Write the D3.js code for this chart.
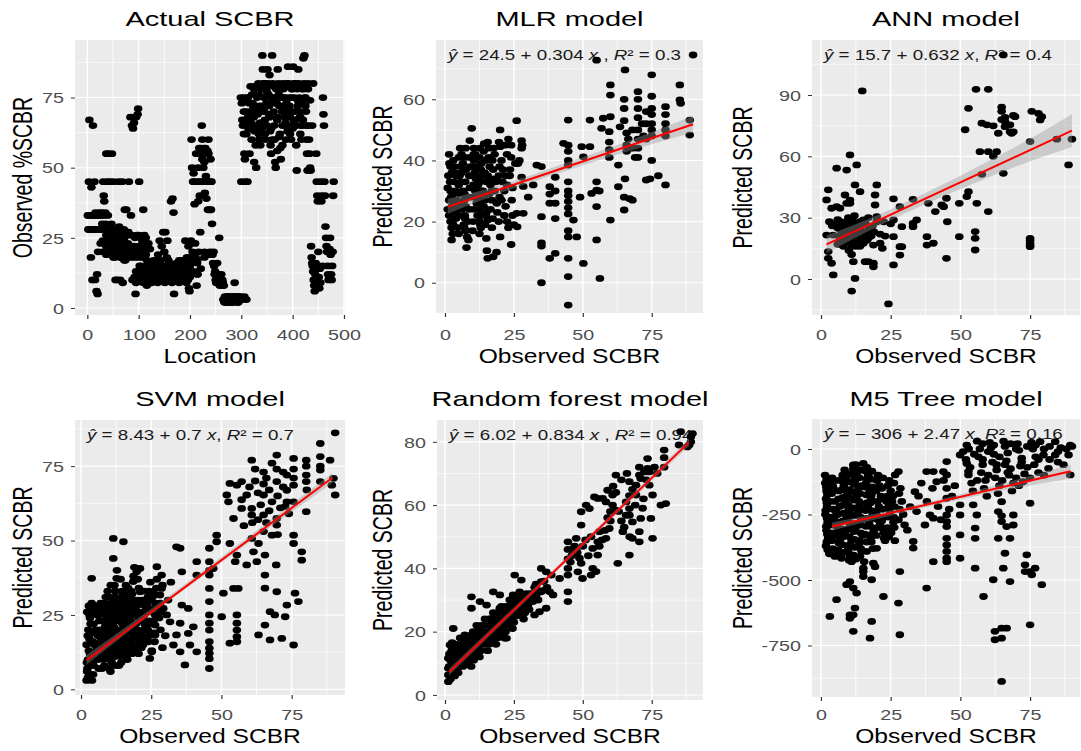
<!DOCTYPE html>
<html><head><meta charset="utf-8">
<script src="https://cdn.jsdelivr.net/npm/d3@7"></script>
<style>body{margin:0;background:#fff;} svg{display:block;} text{font-family:"Liberation Sans",Arial,Helvetica,sans-serif;}</style>
</head><body><svg id="c" width="1081" height="751"></svg>
<script>
// ---------- DATA ----------
// Observed %SCBR for locations 1..480
const actualSCBR = [
33,28,45,67,28,33,18,43,28,10,
65,33,28,45,10,34,28,6,12,5,
20,28,33,34,28,23,28,34,30,28,
45,40,38,28,34,30,55,28,45,33,
55,28,25,45,22,20,30,55,26,19,
45,25,18,20,10,28,23,10,21,19,
45,29,26,10,18,20,24,45,9,21,
28,18,35,17,22,35,26,20,18,27,
45,26,20,68,33,19,65,10,64,22,
66,11,18,5,68,10,26,69,71,20,
45,11,10,15,22,12,18,10,35,12,
26,14,10,25,21,8,11,15,23,12,
10,21,16,13,9,15,12,11,17,10,
13,14,11,16,10,12,15,19,11,13,
24,12,17,10,22,14,11,27,13,20,
12,27,15,10,18,24,11,14,16,12,
13,11,38,15,10,39,12,34,5,14,
11,13,12,16,10,14,12,11,15,13,
10,12,14,11,17,13,12,10,16,11,
24,14,12,18,17,10,22,7,6,13,
18,24,60,50,20,45,48,19,37,23,
18,45,8,17,12,38,20,45,40,27,
57,55,65,53,45,50,57,20,41,55,
47,39,45,56,35,60,45,35,20,53,
35,45,30,19,16,20,15,12,13,10,
9,10,16,11,12,9,25,8,10,9,
12,8,10,9,3,8,2,4,3,2,
3,4,2,3,4,3,2,4,3,2,
4,3,2,3,4,3,9,3,2,4,
3,4,3,2,4,3,4,3,75,45,
73,67,65,75,62,55,53,45,70,66,
75,45,68,64,73,55,70,79,66,60,
76,64,72,68,52,79,70,58,50,65,
75,69,80,62,72,66,58,78,70,64,
90,85,80,75,70,67,60,78,73,65,
85,80,76,72,68,63,58,55,74,90,
80,75,70,65,60,52,50,78,73,68,
85,80,76,72,62,57,53,75,70,65,
80,78,75,70,68,65,60,73,80,63,
86,80,75,72,68,65,60,78,70,64,
86,80,75,70,67,65,58,49,78,72,
85,80,75,70,68,65,60,78,73,67,
89,80,90,75,72,65,60,55,49,78,
65,60,55,50,49,22,18,16,15,13,
10,8,6,12,16,55,45,40,38,20,
11,7,14,9,45,38,40,15,75,69,
65,45,40,29,25,22,20,15,12,10,
11,21,25,19,12,10,15,20,40,45
];
// further [location, %SCBR] samples in the crowded parts
const actualExtra = [
[3,33],[9,33],[15,33],[21,33],[27,33],[33,33],[4,28],[10,28],[16,28],[24,28],[30,28],[36,28],[42,28],[48,28],
[30,24],[30,20],[37,26],[37,22],[37,19],[44,27],[44,24],[44,20],[51,25],[51,22],[51,18],[58,27],[58,24],[58,20],[65,26],[65,22],[65,18],
[72,25],[72,21],[72,17],[79,27],[79,23],[79,19],[86,26],[86,22],[86,18],[93,25],[93,21],[100,26],[100,22],[100,18],[107,24],[107,20],[114,23],[114,19],
[95,9],[95,13],[102,11],[102,15],[109,9],[109,13],[116,11],[116,15],[116,17],[123,9],[123,13],[130,11],[130,15],[137,9],[137,13],[137,17],
[144,11],[144,15],[151,9],[151,13],[158,11],[158,15],[158,17],[165,9],[165,13],[172,11],[172,15],[179,9],[179,13],[179,17],
[186,11],[186,15],[193,9],[193,13],[200,11],[200,15],[207,13],[207,17],[214,12],[214,16],[221,14],[228,18],[235,19],
[266,3],[270,2],[274,4],[278,3],[282,2],[286,4],[290,3],[294,2],[298,4],[302,3],[306,4],[310,3],
[305,70],[310,62],[313,75],[318,68],[322,73],[326,63],[330,70],[334,76],[338,66],[342,72],[346,62],[350,77],[354,69],[358,64],
[362,79],[366,73],[370,67],[374,61],[378,78],[382,72],[386,66],[390,79],[394,70],[398,75],[402,67],[406,80],[410,74],[414,68],
[418,65],[422,78],[426,70],[430,80],[434,74],[438,65],[440,80],[325,78],[345,80],[365,75],[385,75],[405,65],[425,75],[360,60],
[370,56],[380,58],[395,62],[415,62],[335,60],[320,70],[355,83],[400,78],
[207,45],[212,55],[216,50],[220,45],[224,60],[228,52],[232,45],[236,55],[240,45],[218,57],[230,57]
];

// [observed, predicted]
const mlrPoints = [
[1.5,42],[2,38],[2.5,36],[1.8,33],[2,30],[2.2,28],[2.5,25],[1.5,22],[2,20],[2.4,18],[2.8,16],[2.4,14],[3,40],[3.5,38],[4,35],[3.8,30],[4.2,27],[4.5,24],[4,21],[4.6,18],[5,16],
[5.5,44],[6,42],[6.5,39],[6,36],[5.8,33],[6.5,30],[7,27],[6.2,24],[7.2,22],[6.8,19],[7.5,17],[8,15],[7.8,11.5],[8.5,14],[8.2,20],[8.8,24],[8.5,28],[9,31],[8.8,35],[9.2,38],[9,41],[9,46.5],
[9.7,50.5],[10.5,44],[11,42],[10.5,40],[11.5,38],[10.8,36],[11.2,34],[12,32],[11,30],[12.2,28],[11.5,26],[12.5,24],[11.8,22],[12.6,20],[13,18],[13.5,35],[13.2,39],[14,43],[14.2,45.5],[13.8,30],[14.5,27],[14,25],[14.8,22],
[15.5,46],[16,44],[15.8,41],[16.2,38],[15.5,35],[16.5,32],[16,29],[17,27],[16.5,24],[15.5,20.5],[15,14.5],[15.2,10.5],[15.5,8],[17.5,8.5],[18.7,10],[18,42],[17.5,37],[18.5,33],[18,30],[18.8,26],[19,23],
[20,50],[20,44.5],[20.5,40],[21,37],[20.8,33],[21.5,30],[20.5,27],[22,25],[21.5,22],[20,15],[22.5,20],[23,18],[23.5,35],[22.5,42],[23,47],[24,12.5],[24.2,27],[24,41],[23.6,37],[24.5,22],[25,19],
[26,53],[27.8,46.5],[28,45],[27.8,44],[27.8,34.5],[28.4,31.5],[28.4,22.7],[26,22.7],[26.2,18.3],[30.2,28],[32,32],[33.3,38.5],[35,38],[35,21.6],[35,13],[35,12],[35,0],
[38,31.4],[38,29],[38,26],[38,8],[40,34.5],[40,30],[40,26],[40,21],[40,9.6],[43,45.6],[44.7,53.2],[44.7,45],[44.7,43],[44.7,40],[44.7,38.5],[44.7,33],[44.7,30],[44.7,28.5],[44.7,26.6],[44.7,24.5],[44.7,22.5],[44.7,17],[44.7,15],[44.7,8],[44.7,2],[44.7,-7.3],
[46.6,20.5],[47.8,15],[49,28],[49.6,44.5],[50.2,41.2],[50.2,6.3],[52.6,44.5],[52.6,53.2],[53.2,29.2],[55,72.8],[55,33],[55,30.3],[55,24.9],[55,14],[56.2,1.4],[56,30],[56.8,50.5],[57.4,53.8],
[59.6,49.4],[59.6,46],[59.6,43.5],[59.6,41],[60,64.7],[60,61.4],[60,54.3],[60,20.5],[62.9,38.5],[62.9,31.4],[63.5,51],
[65.3,69.6],[65,60],[65,57],[65,53],[65.9,49],[65.9,45],[65.9,43],[65.3,34],[65,28],[65,23.8],[66.5,47],[66.5,44],[67,27.5],[68,27],[68,50],[68,44],[69,41],
[70,62.5],[70,60],[70,57],[70,54],[70,50],[70,47],[70,44],[70,41],[71.5,52],[72,48],[73,56],[73,52],[73,47],[73,33.6],[74.4,34],[75,68],[75,61],[75,57],[75,55],[75,52],[75,50],[75,48],[75,40],[77.4,35],
[80,57.6],[80,55],[80,52],[80,50],[80,48],[80,32],[85.2,64.7],[85.2,59.8],[85.5,58.7],[88.8,53.2],[88.8,48.3],[90,74.5]
];
const mlrDense = [
[1,24],[1.5,27],[1,31],[1.2,35],[1.6,39],[3,19],[3.2,23],[3.5,26],[3,29],[3.3,33],[3.6,36],[5,22],[5.2,26],[5.5,29],[5,32],[5.3,35],[5.6,38],[5,41],
[7,18],[7.3,21],[7.5,25],[7.1,29],[7.4,33],[7.7,37],[7.2,41],[7.5,44],[10,17],[10.2,20],[10.5,24],[10,28],[10.3,32],[10.6,35],[10.1,38],[10.4,42],
[12.5,16],[12.8,19],[13,22],[12.6,26],[13.2,30],[12.8,33],[13,37],[12.5,41],[12.7,44],[14.5,19],[15,23],[14.6,29],[15,33],[14.4,36],[14.8,40],
[17,18],[17.3,21],[17,30],[17.5,34],[17.2,40],[17.6,44],[19.5,20],[19.8,28],[19.5,35],[19.8,38],[19.6,46],[22,35],[22.5,32],[21.8,45],[24.5,31],[24,45],[25.5,39],[26.5,39],[27,40]
];

const annPoints = [
[14.8,92],[65.4,109.6],[55.6,92.8],[60,92.8],[52.9,83.5],[64.8,84],[64.8,82],[64.8,78],[66,79],[66,77],[66,74.5],[67.8,75.4],[69,72],[69,80],[69.6,79.4],[67.8,72],[68.4,71.3],[63.6,71.3],
[75.6,82],[78,81],[79.2,79.4],[78.6,77.8],[75,67.2],[84.6,68.4],[90,68.4],[88.8,55.8],
[57.7,76.2],[59.5,75.4],[61.8,74.9],[51.7,73],[57,62.3],[60,62.3],[63,62.3],[61.8,60],[57.7,51.2],[65.4,51.7],
[52.9,42.7],[52.3,40.3],[49.6,37],[55.9,37],[60,33],[49.6,20.7],[55.3,23.2],[55.3,19.9],[55.3,14.2],
[75,19.9],[75,18.9],[75,17.6],[75,16.5],[75,15.8],
[45,39.5],[44,35.4],[43.3,36.2],[45.3,28],[45,10.1],[41,33],[38.5,37],[38,20.7],[38,16.6],[40.3,17.5],
[33,39],[33,25.6],[33,27.2],[34.3,28.9],[28.3,35.4],[26,39.2],[26,28.9],[28.3,15.8],[28.3,11.7],[29,25.6],[29,15.8],[26,6.9],[26,20.7],[24.2,-12.2],
[20,46],[19.4,41.1],[19.4,36.2],[20,30.5],[20,28],[21.2,22],[21.2,17.5],[18.8,16.6],[18.8,7.7],[18.8,6],[17,8.5],[15.8,8.5],
[14,28],[15.2,28.9],[14,24],[14,20],[14,16],[15.2,17.5],[12.8,55.8],[10.4,60.7],[12.2,46],[14,42.7],[11.6,8.5],[12.2,0.3],[11,-5.9],
[10.4,38.6],[10.4,37],[8.6,41.1],[9.2,37],[9.2,53.3],[5.6,54.2],[5.6,35.4],[6.8,34.6],[3.8,34.6],[2.6,43.6],[2,38.7],[2,21.5],[4.4,21.5],[2.6,13.4],[2.6,10.1],[3.8,7.7],[4.4,2],
[5,27],[6,25],[7,28],[7.5,22],[8,26],[8.5,19],[9,24],[9.5,28],[10,21],[10.5,26],[11,18],[11,23],[11.5,28],[12,20],[12,25],[12.5,16],[13,22],[13,27],[16,22],[16.5,19],[17,24],[18,21],[18.5,26],[19,23],[22,15],[23,21],[25,27],[6,17],[8,16],[10,14],[11,12],[3,28],[4,26],[6.5,21],[9.8,30],[12,31],[17,30],[22.5,28],
[6,29],[7,24],[8,21],[9,18],[10,25],[11,29],[12,22],[13,19],[14,26],[15,23],[16,27],[17,20],[9,27],[11,16],[7,19]
];

const svmPoints = [
[2,3],[2.5,4],[3,5],[2.2,6],[3,8],[2.5,10],[3.2,12],[2.8,13],[2,15],[3,17],[2.6,20],[3.4,22],[3,25],[3.5,27],[3.8,29],[3.8,37.3],
[4.5,8],[5,11],[5.5,13],[4.8,15],[6,18],[5.2,20],[6.5,23],[5.8,25],[6.2,28],[7,29],
[7.5,7],[8,10],[8.5,12],[7.8,14],[9,16],[8.2,18],[9.5,20],[8.8,22],[9.2,24],[8,26],[9.8,28],[9.5,33],
[10.5,6],[11,9],[10.8,12],[11.5,14],[12,16],[10.5,18],[12.5,20],[11.2,22],[12,24],[10.8,26],[12.8,28],[11.5,30],[12.2,33],[12.7,37.3],[11.5,44],[15.1,49.6],[11.5,50.7],
[13.5,8],[14,11],[13.8,13],[14.5,15],[15,17],[13.2,19],[15.5,21],[14.2,23],[15.8,25],[13.6,27],[14.8,30],[15.2,32],[16,35],
[16.5,10],[17,12],[18,14],[16.8,16],[19,18],[17.5,20],[18.5,22],[16.2,24],[19.5,26],[17.2,28],[18.8,30],[17.8,33],[18.6,36.2],[19.8,39.5],[19,41],
[20.5,12],[21.5,14],[22,17],[20.8,19],[23,21],[21.2,23],[22.5,25],[23.5,27],[21,29],[22.2,29.5],[23.8,31],[21,32.8],[21,40.6],
[24.5,10.4],[25.2,13],[24,16],[26,19],[25,22],[26.4,25],[27,28],[25.5,31],[26.8,34],[27,37],[27,41.2],
[28.7,38.4],[28.7,33.9],[29.3,27.2],[28.1,31.7],[29,14],[30,18],[31.7,22.7],[30.5,25],[31,30],[32,36],
[26.4,27.2],[26.4,21.6],[26.4,18.3],[25.2,12.6],
[35.3,47.4],[34,47.9],[35.9,39.5],[35.9,28.3],[35.3,22.2],[35.3,12.6],[34,18.3],[32.9,14.9],
[41.2,42.9],[41.2,38.4],[40,21],[41.2,12.6],[38.2,27.2],[38.2,18.8],[37,8.2],[38.8,14.9],
[48.3,51.8],[48.3,49.6],[47.1,40.6],[45.7,47.4],[45.7,42.9],[45.7,40],[45.7,38.4],[45.7,33.9],[45.7,29.5],[45.7,25],[45.7,22.2],[45.7,19.9],[45.7,16],[45.7,13.8],[45.7,12.1],[45.7,10.3],[45.7,7],
[51.9,65.3],[52.5,63],[53,49],[50.1,24.4],[50.7,32.3],[54.9,42.9],[55.5,45.1],[54.3,57.4],[53,69.2],[55.5,68.6],
[55.5,25],[55.5,22.2],[55.5,19.9],[55.5,17.7],[55.5,16],[56,33.9],[54.3,33.9],[53,15.5],
[57.2,69.8],[57.2,63.7],[57.2,60.8],[59,65.3],[60.8,77],[60.8,60.8],[60.8,58.6],[59,41.8],[61.4,46.2],[60.8,50.7],
[63.2,49],[62.6,42.9],[63.2,18.3],
[65,73],[65,69],[65,65.3],[65,58.6],[65,53],[65.5,45.1],[65.5,38.4],[65.5,34],[65.5,21.6],
[69.7,78.7],[69.7,74],[69.7,69.8],[69.7,32.8],[69,25],[67.3,26.1],[67.3,16.6],[69.5,41.8],[68,51.8],[69.7,57.4],[69.7,55.2],
[73.3,72],[73.3,66.9],[73.3,63],[72.7,61.4],[71.5,17.1],[72.7,24.4],[73.3,28.3],
[75.7,77.6],[75.7,74],[75.7,71],[75.7,68.6],[75.7,63],[75.7,14.9],[76.2,32.3],[77.4,29.5],[75.7,51.8],[75.7,49],
[78.6,46.2],[78.6,43.4],[80.2,77],[80.2,75],[80.2,72],[80.2,69.8],[80.4,67],[80.2,59.7],
[85.2,82.6],[85.2,78.2],[85.2,75],[85.2,73.7],[85.2,69.8],[88.7,77],[89.9,70.9],[90.5,65.3],[89.3,68.6],[90.5,86.2],
[62,70],[63,66],[64,62],[66,71],[67,67],[68,63],[67,60],[70,65],[71,61],[72,68],[61,56],[63,57],[66,56],[70,52],[58,55],[60,68],[62,74],[68,76],[72,73],[74,59]
];
const svmDense = [
[2.3,7],[2.1,9],[3.6,11],[2.4,18],[3.2,24],[2.2,26],[3.9,3],[2.8,28],
[4.3,5],[4.1,9],[4.6,12],[4.2,16],[4.4,19],[4.5,22],[4.7,26],[4.8,28],
[6.3,7],[6.1,10],[6.6,12],[6.2,15],[6.7,20],[6.4,25],[5.6,26.5],[6.9,16],
[8.3,8],[8.6,11],[8.1,13],[8.7,15],[7.9,17],[8.4,19],[8.6,21],[8.1,23],[8.9,25],[8.5,27],[8.3,29],[8.8,31],
[10,7],[10.3,10],[9.8,13],[10.2,15],[10.6,17],[9.9,19],[10.4,21],[10.1,23],[10.7,25],[10.2,27],[10.5,29],[10.1,31],[10.6,35],
[12.3,8],[12.1,11],[11.8,13],[12.4,15],[11.9,17],[12.3,19],[11.7,21],[12.6,23],[12,25],[11.8,27],[12.4,29],[12.1,31],[11.9,35],[12.8,40],
[14.3,9],[14.1,12],[14.6,14],[13.9,16],[14.4,18],[13.8,20],[14.7,22],[14.1,24],[14.5,26],[13.9,28],[14.3,31],[14.6,33],[14.1,37],
[16.1,11],[16.6,13],[15.8,15],[16.3,17],[15.9,19],[16.7,21],[16.2,23],[15.7,25],[16.5,27],[16,29],[16.4,31],[16.8,34],
[18.2,12],[17.8,15],[18.4,17],[17.9,19],[18.3,21],[17.7,23],[18.1,25],[18.5,27],[17.9,29],[18.2,32],[18.7,38],
[20.2,13],[19.8,15],[20.4,17],[20.1,20],[19.7,22],[20.5,24],[20.1,26],[19.9,28],[20.3,30],[20.6,34],[20.2,37],
[22.1,15],[21.8,18],[22.4,20],[22.7,22],[21.9,24],[22.3,26],[22.8,28],[21.7,30],[22.4,33],
[24.2,18],[23.8,20],[24.4,23],[24.1,26],[23.7,28],[24.5,30],[24.2,33],[24.7,36],
[26.2,16],[25.8,23],[26.5,29],[26.1,32],[28.3,20],[27.8,24],[28.5,26],[28.2,29],[29,35]
];

const rfPoints = [
[1.2,4.2],[1.2,6.3],[1.2,8.4],[1.2,11.6],[1.8,15.8],[3,21],[2,5],[2.5,7],[2.8,10],[2.2,12.5],[3,14],[2.6,16.5],
[3.5,6],[4,8],[4.5,10],[3.8,12],[5,14],[4.2,16],[5.5,18],
[6.5,9],[7,11],[7.5,13],[6.8,15],[8,17],[7.2,19],[8.5,12],
[9.5,9],[10,12],[10.5,14],[9.8,16],[11,18],[10.2,20],[11.5,22],[9.6,27.4],[9.6,31],
[12.5,12],[13,14],[13.5,16],[12.8,18],[14,20],[13.2,22],[14.5,24],[12.7,29.5],[15.1,28.4],
[15.5,14],[16,16],[16.5,18],[15.8,20],[17,22],[16.2,24],[17.5,26],[17.5,32.6],
[18.5,16],[19,18],[19.5,20],[18.8,22],[20,24],[19.2,26],[20.5,28],[19.9,31.6],[19.9,27.4],[19.9,22.1],[19.9,18.9],
[21.5,18],[22,20],[22.5,22],[21.8,24],[23,26],[22.2,28],[23.5,30],[22.3,27.4],[22.3,23.2],[22.3,17.9],
[24.5,21],[25,23],[25.5,25],[24.8,27],[26,29],[25.2,31],[25.3,37.9],[27.7,36.3],[27.1,32.6],[27.1,29.5],[27.1,27.4],[24.7,31.6],[24.7,28.4],[24.7,25.3],
[28.5,24],[29,26],[29.5,28],[30.1,28.4],[31.9,29.5],[30,30],[31,32],[32.5,34],[33.1,31.6],[33.1,33.7],[32.5,25.3],[34.3,26.3],[36.7,27.4],
[34.9,40],[34.9,35.8],[34.9,32.6],[36.7,38.9],[38.6,37.9],[41.6,36.8],[38,32.6],[39.2,31.6],
[44.6,48.4],[44.6,46],[44.6,43],[44.6,40],[44.6,37.9],[44.6,32.6],[44.6,29.5],[46.4,45.8],[47.6,49.5],[47.6,46.3],
[48.8,43.2],[49.4,41.6],[49.9,36.8],[48.2,38.9],[49.4,57.9],[51.2,60],[49.4,53.7],[52.4,58.9],
[53.6,46.3],[53.6,40],[54.8,39],[53,37.9],[55.4,48.4],[55.4,44.2],[56,51.6],[58.4,49.5],[59.6,52.6],
[54.2,62.6],[55.4,62.1],[57.2,62.1],[58.4,61],[59,64.7],[60.8,63.2],[60.8,60],[62,69.5],[62,58.4],[62.7,41.6],
[64.5,51.6],[65.7,61],[65.7,56.8],[66.9,67.4],[66.9,63],[66.9,58.9],[66.9,56.8],[66.9,44.2],[68,54.7],[68,49.5],
[69.3,66.3],[69.3,63.2],[70.5,72],[70.5,69.5],[71,68.4],[70.5,51.6],[70.5,48.4],[71,55.8],[71.7,59],[72.3,70.5],
[73.5,74.7],[73.5,71.6],[74.1,70.5],[74.1,66.3],[74.7,55.8],[75.3,63.2],[75.3,49.5],
[79.5,77.4],[79.5,75],[79.5,72],[80.1,60.5],[78.3,60],
[84.9,79],[85.5,83.2],[87.9,78.4],[88.6,79],[89.2,81.6],[89.2,80],[89.8,82.6],
[63,58],[64,55],[65,53],[67,50],[68,65],[69,60],[72,62],[73,68],[76,72],[77,70],[60,55],[61,66],[64,68],[66,70],[62,64]
];
const rfDense = [
[1.5,9],[2,11],[1.6,13],[2.4,14],[3.5,9],[3.2,11],[3.7,13],[4,15],[4.8,7],[5.2,9],[5.5,11],[5.7,13],[5.9,16],[6.2,10],[6.8,12],[7.4,14],[7.8,16],[8.2,18],
[8.4,10],[8.8,13],[9,15],[9.2,17],[9.7,19],[10.4,11],[10.8,13],[11.2,15],[11.5,17],[11.8,19],[12.1,21],[12.4,14],[12.9,16],[13.3,18],[13.8,20],[14.2,22],
[14.6,16],[15.2,18],[15.6,20],[16,22],[16.4,24],[16.9,17],[17.4,19],[17.8,21],[18.2,23],[18.6,25],[19.1,19],[19.6,21],[20,23],[20.4,25],[20.9,27],
[21.2,20],[21.7,22],[22.1,24],[22.6,26],[23,28],[23.6,22],[24,24],[24.4,26],[24.9,28],[25.4,30],[26,25],[26.5,27],[27,29],[27.5,31],[28,26],[28.5,28],
[29,30],[29.6,32],[30.5,27],[31.2,30],[32,32],[33,35],[33.8,30],[35.5,33],[36,36],[37,34],
[45.5,42],[46,44],[47,47],[48,45],[50,47],[51,49],[52,44],[53,50],[56,47],[57,49],[58,52],[59,56],[60,58]
];

const m5Points = [
[1.5,-100],[1.5,-130],[2,-160],[1.8,-190],[2.2,-220],[1.6,-250],[2.4,-280],[2,-310],[2.6,-340],[1.8,-370],[3,-400],[3.5,-120],[3.2,-200],[3.8,-260],
[4.5,-150],[5,-200],[5.5,-240],[4.8,-270],[6,-300],[5.2,-330],[6.5,-360],[5.8,-400],[7,-410],[7.4,-417],[5,-410],
[8.5,-80],[9,-110],[8.2,-140],[9.5,-170],[8.8,-200],[10,-230],[9.2,-260],[10.5,-290],[8.6,-320],[11,-350],[9.8,-380],[10.4,-410],[11,-430],
[12.5,-60],[13,-90],[12.2,-120],[13.5,-150],[12.8,-180],[14,-210],[13.2,-240],[14.5,-270],[12.4,-300],[15,-330],[13.8,-360],[14.6,-390],[12.6,-420],[15.5,-430],[11.6,-61],[15.2,-55],
[16.5,-70],[17,-100],[16.2,-130],[17.5,-160],[18,-190],[16.8,-220],[18.5,-250],[17.2,-280],[19,-310],[17.8,-340],[18.6,-380],[16.4,-391],[20,-379],
[20.5,-100],[21,-140],[21.5,-180],[20.8,-220],[22,-260],[21.2,-290],[22.5,-320],[23,-350],[23.5,-200],
[24.5,-120],[25,-160],[25.5,-200],[24.8,-240],[26,-280],[25.2,-320],[26.5,-350],[26.6,-99],[27.8,-86],
[28.5,-150],[29,-200],[29.5,-250],[30,-290],[31,-310],[32,-220],
[19.4,-449],[18.8,-436],[15.2,-468],[15.2,-487],[15.2,-455],[11.6,-633],[12.2,-607],[10.4,-633],[10.4,-646],[11.6,-696],[10.4,-506],[11.6,-531],[9.2,-518],[12.8,-550],[5.6,-575],[3.2,-639],
[28.3,-468],[27.8,-588],[28.3,-709],[22.4,-563],[18.2,-499],[18.2,-658],[17.6,-722],
[33.1,-353],[33.1,-378],[33.7,-163],[34.3,-239],[37.3,-290],[37.9,-531],[40.3,-430],[40.3,-264],[39.1,-252],[37.9,-86],[40.3,-86],[41.5,-125],[43.9,-86],[45.1,-48],
[45.1,-252],[45.1,-277],[45.1,-296],[45.1,-341],[45.1,-366],[45.1,-391],[45.1,-417],[45.1,-430],[45.1,-99],[45.1,-150],[45.1,-188],
[49.9,-417],[49.9,-328],[49.9,-252],[49.9,-213],[49.9,-23],[52.3,15],[52.3,-55],[52.9,-99],[52.9,-86],
[55.3,-455],[55.3,-302],[55.3,-341],[55.9,-252],[54.6,-213],[58.3,-563],
[61.8,-499],[62.4,-696],[62.4,-728],[64.8,-684],[64.8,-722],[66.6,-684],[64.8,-887],[67.8,-506],[65.4,-455],[66,-398],[63.6,-341],[69,-252],[69,-290],[67.8,-341],[66.6,-296],[64.8,-201],[64.8,-255],[64.8,-277],[63.6,-239],
[75,-671],[79.2,-518],[75.6,-480],[73.2,-442],[73.2,-468],[73.8,-404],[76.8,-455],[75,-468],[75,-207],
[51,-10],[52,-40],[53.5,-70],[54,-130],[54.5,-160],
[56,30],[57,0],[56.5,-30],[58,-60],[57.5,-90],[59,-120],[58.5,-150],[59.5,-180],
[60.5,25],[61,5],[62,-20],[61.5,-50],[63,-80],[62.5,-110],[64,-140],[63.5,-170],
[65.5,30],[66,10],[67,-15],[66.5,-45],[68,-75],[67.5,-100],[69,-130],[68.5,-160],
[70.5,20],[71,-5],[72,-35],[71.5,-65],[73,-95],[72.5,-125],
[75.5,25],[76,0],[77,-30],[76.5,-60],[78,-90],
[78.6,28],[79.8,-23],[81.6,-74],[84,28],[84,-23],[88.8,-23],[89.4,15],[89.4,-99],[86,5],[82,-40],[87,-60]
];
const m5Dense = [
[2.1,-115],[1.9,-145],[2.3,-175],[2.1,-205],[1.7,-235],[2.2,-265],[1.9,-295],[2.3,-325],[2.1,-355],[2.4,-385],
[4,-110],[4.2,-140],[3.9,-170],[4.3,-230],[4.1,-290],[4.4,-320],[3.9,-350],[4.2,-380],
[6.2,-120],[6.5,-160],[6.3,-190],[6.7,-220],[6.1,-250],[6.6,-280],[6.4,-320],[6.8,-345],[6.2,-385],
[7.8,-100],[8,-125],[7.6,-155],[7.9,-185],[7.7,-215],[8.1,-245],[7.8,-275],[7.6,-305],[8,-335],[7.7,-365],[8.1,-395],
[10.2,-95],[9.8,-125],[10.3,-155],[10.1,-185],[9.9,-215],[10.3,-245],[10,-275],[9.7,-305],[10.2,-335],[10.4,-365],[9.9,-395],[10.1,-425],
[11.6,-75],[12,-105],[11.8,-135],[12.2,-165],[11.7,-195],[12.1,-225],[11.9,-255],[12.3,-285],[11.8,-315],[12,-345],[12.2,-375],[11.7,-405],
[14.2,-80],[13.8,-110],[14.3,-140],[14,-170],[13.7,-200],[14.4,-230],[14.1,-260],[13.9,-290],[14.2,-320],[13.8,-350],[14.3,-380],[14,-410],
[16,-85],[16.4,-115],[15.8,-145],[16.2,-175],[16.6,-205],[15.9,-235],[16.3,-265],[16.1,-295],[15.7,-325],[16.4,-355],
[18.3,-85],[17.9,-115],[18.4,-145],[18.1,-175],[17.8,-205],[18.2,-235],[18.5,-265],[17.7,-295],[18.3,-325],[18.1,-355],
[20.1,-120],[19.8,-160],[20.3,-200],[19.9,-240],[20.4,-270],[20.2,-300],[19.8,-330],
[22.2,-110],[21.9,-150],[22.4,-190],[22.1,-230],[21.8,-275],[22.3,-305],[22.6,-340],
[24,-140],[23.8,-180],[24.3,-220],[24.1,-260],[23.9,-300],[24.3,-335],
[26.2,-130],[25.8,-180],[26.4,-220],[26.1,-260],[26.3,-300],[28,-170],[28.2,-230],[27.8,-270],
[55,-20],[58,20],[60,-10],[62,15],[64,-30],[66,-60],[68,20],[70,0],[72,-50],[74,10],[77,15],[80,0],[85,-10],[88,0],[90,10],
[60,-100],[65,-120],[70,-110],[75,-110],[80,-100],[85,-50],[53,0],[56,-120],[58,-40],[63,-60],[67,-90],[71,-140],[74,-70],[78,-40],[82,10],
[35,-180],[36,-130],[38,-200],[40,-150],[42,-220],[44,-120],[47,-180],[48,-140],[43,-270],[46,-230]
];

// fitted lines: [intercept, slope, xFrom, xTo]
const mlrFit = [24.5, 0.304, 1, 90];
const annFit = [15.7, 0.632, 2, 90];
const svmFit = [8.43, 0.7, 2, 89.5];
const rfFit  = [6.02, 0.834, 1.5, 88.5];
const m5Fit  = [-306, 2.47, 4, 89.5];

// confidence bands: [x, lower, upper]
const mlrBand = [[1,22.6,27.4],[20,29.3,31.9],[40,35.5,37.9],[60,41.2,44.2],[75,45.3,49.3],[90,49.2,54.6]];
const annBand = [[2,12.7,21.3],[20,25.5,31.1],[40,38.2,43.8],[60,49.6,57.6],[75,57.6,68.6],[90,64.6,80.6]];
const svmBand = [[2,8.3,11.5],[25,25.2,27.1],[45,39.1,40.9],[65,52.9,55.1],[89.5,69.3,72.7]];
const rfBand  = [[1.5,6.2,8.3],[45,42.8,44.3],[88.5,78.7,81]];
const m5Band  = [[4,-311,-281],[30,-241,-223],[60,-170,-146],[89.5,-113,-59]];

// equation labels
const eqLabels = [
  null,
  "ŷ = 24.5 + 0.304 x , R² = 0.3",
  "ŷ = 15.7 + 0.632 x, R² = 0.4",
  "ŷ = 8.43 + 0.7 x, R² = 0.7",
  "ŷ = 6.02 + 0.834 x , R² = 0.94",
  "ŷ = \u2212 306 + 2.47 x, R² = 0.16"
];

// titles and tick labels
const titles = ["Actual SCBR","MLR model","ANN model","SVM model","Random forest model","M5 Tree model"];
const xTitles = ["Location","Observed SCBR","Observed SCBR","Observed SCBR","Observed SCBR","Observed SCBR"];
const yTitles = ["Observed %SCBR","Predicted SCBR","Predicted SCBR","Predicted SCBR","Predicted SCBR","Predicted SCBR"];
const locationTicks = [0,100,200,300,400,500];
const scbrTicks = [0,25,50,75];
const mlrYTicks = [0,20,40,60];
const annYTicks = [0,30,60,90];
const svmYTicks = [0,25,50,75];
const rfYTicks = [0,20,40,60,80];
const m5YTicks = [-750,-500,-250,0];

// ---------- LAYOUT ----------
const actualPoints = actualSCBR.map((v,i)=>[i+1, v]).concat(actualExtra);
const panels = [
  {i:0,row:0,col:0,box:[75,40,345,315],  xd:[-24,502],   yd:[-2.5,95.5], xt:locationTicks, yt:scbrTicks, pts:actualPoints},
  {i:1,row:0,col:1,box:[436,40,703,313], xd:[-3.26,93.6],yd:[-9.9,79.4], xt:scbrTicks, yt:mlrYTicks, pts:mlrPoints.concat(mlrDense), fit:mlrFit, band:mlrBand},
  {i:2,row:0,col:2,box:[812,40,1080,315],xd:[-3.23,92.9],yd:[-17.6,116.9],xt:scbrTicks, yt:annYTicks, pts:annPoints, fit:annFit, band:annBand},
  {i:3,row:1,col:0,box:[75,420,345,695], xd:[-2.14,94],  yd:[-1.9,90.5], xt:scbrTicks, yt:svmYTicks, pts:svmPoints.concat(svmDense), fit:svmFit, band:svmBand},
  {i:4,row:1,col:1,box:[437,420,703,700],xd:[-2.9,93.6], yd:[-1.6,86.9], xt:scbrTicks, yt:rfYTicks, pts:rfPoints.concat(rfDense), fit:rfFit, band:rfBand},
  {i:5,row:1,col:2,box:[812,419,1080,697],xd:[-3.2,92.9],yd:[-946.6,114.5],xt:scbrTicks, yt:m5YTicks, pts:m5Points.concat(m5Dense), fit:m5Fit, band:m5Band}
];
const rowTitleBase = [26,406];
const rowXTickBase = [340,720];
const rowXTitleBase = [363,743];
const colYTitleX = [32,392,752];
const FONT = '"Liberation Sans",Arial,Helvetica,sans-serif';
const TICK_S = 1.36, TICK_FS = 14.5;

function minors(t, dom){
  const step = t[1]-t[0];
  const out = [];
  for(let v = t[0]-step/2; v <= dom[1]; v += step){ if(v>=dom[0]) out.push(v); }
  return out;
}

const svg = d3.select("#c");
svg.append("rect").attr("width",1081).attr("height",751).attr("fill","#fff");

panels.forEach(p=>{
  const [L,T,R,B] = p.box, w = R-L, h = B-T;
  const x = d3.scaleLinear().domain(p.xd).range([0,w]);
  const y = d3.scaleLinear().domain(p.yd).range([h,0]);
  const g = svg.append("g").attr("transform",`translate(${L},${T})`);
  g.append("rect").attr("width",w).attr("height",h).attr("fill","#EBEBEB");
  const clipId = "clip"+p.i;
  g.append("clipPath").attr("id",clipId).append("rect").attr("width",w).attr("height",h);

  g.selectAll(".vmin").data(minors(p.xt,p.xd)).join("line").attr("class","vmin")
    .attr("x1",d=>x(d)).attr("x2",d=>x(d)).attr("y1",0).attr("y2",h).attr("stroke","#fff").attr("stroke-width",0.8);
  g.selectAll(".hmin").data(minors(p.yt,p.yd)).join("line").attr("class","hmin")
    .attr("y1",d=>y(d)).attr("y2",d=>y(d)).attr("x1",0).attr("x2",w).attr("stroke","#fff").attr("stroke-width",0.6);
  g.selectAll(".vmaj").data(p.xt.filter(d=>d>=p.xd[0]&&d<=p.xd[1])).join("line").attr("class","vmaj")
    .attr("x1",d=>x(d)).attr("x2",d=>x(d)).attr("y1",0).attr("y2",h).attr("stroke","#fff").attr("stroke-width",1.5);
  g.selectAll(".hmaj").data(p.yt).join("line").attr("class","hmaj")
    .attr("y1",d=>y(d)).attr("y2",d=>y(d)).attr("x1",0).attr("x2",w).attr("stroke","#fff").attr("stroke-width",1.1);

  // equation label
  if(eqLabels[p.i]){
    const t = g.append("text").attr("transform",`translate(12,20) scale(1.34,1)`)
      .attr("font-size",14).attr("fill","#1a1a1a").attr("font-family",FONT);
    eqLabels[p.i].split(/([ŷxR])/).forEach(s=>{
      if(!s) return;
      t.append("tspan").attr("font-style", /^[ŷxR]$/.test(s) ? "italic" : "normal").text(s);
    });
  }

  const pg = g.append("g").attr("clip-path",`url(#${clipId})`);
  pg.selectAll("ellipse").data(p.pts).join("ellipse")
    .attr("cx",d=>x(d[0])).attr("cy",d=>y(d[1])).attr("rx",4.3).attr("ry",3.4).attr("fill","#000");

  if(p.band){
    const area = d3.area().x(d=>x(d[0])).y0(d=>y(d[1])).y1(d=>y(d[2])).curve(d3.curveMonotoneX);
    pg.append("path").datum(p.band).attr("d",area).attr("fill","#999999").attr("fill-opacity",0.4);
    const [a,b,x0,x1] = p.fit;
    const line = d3.line().x(d=>x(d[0])).y(d=>y(d[1]));
    pg.append("path").datum([[x0,a+b*x0],[x1,a+b*x1]]).attr("d",line)
      .attr("stroke","#FF0000").attr("stroke-width",2).attr("fill","none");
  }

  // axes
  const ax = g.append("g").attr("transform",`translate(0,${h})`)
    .call(d3.axisBottom(x).tickValues(p.xt).tickSize(4).tickFormat(d=>String(d)));
  ax.select(".domain").remove();
  ax.selectAll("line").attr("stroke","#333").attr("stroke-width",1.2);
  ax.selectAll("text").attr("y", rowXTickBase[p.row]-B).attr("dy",0)
    .attr("transform",`scale(${TICK_S},1)`).attr("font-size",TICK_FS).attr("fill","#4D4D4D").attr("font-family",FONT);

  const ay = g.append("g")
    .call(d3.axisLeft(y).tickValues(p.yt).tickSize(4).tickFormat(d=>String(d)));
  ay.select(".domain").remove();
  ay.selectAll("line").attr("stroke","#333").attr("stroke-width",1);
  ay.selectAll("text").attr("x", -11/TICK_S).attr("dy","0.36em")
    .attr("transform",`scale(${TICK_S},1)`).attr("font-size",TICK_FS).attr("fill","#4D4D4D").attr("font-family",FONT);

  // titles
  svg.append("text").attr("transform",`translate(${L+w/2},${rowTitleBase[p.row]}) scale(1.38,1)`)
    .attr("text-anchor","middle").attr("font-size",21).attr("fill","#000").attr("font-family",FONT).text(titles[p.i]);
  svg.append("text").attr("transform",`translate(${L+w/2},${rowXTitleBase[p.row]}) scale(1.2,1)`)
    .attr("text-anchor","middle").attr("font-size",20.5).attr("fill","#000").attr("font-family",FONT).text(xTitles[p.i]);
  svg.append("text").attr("transform",`translate(${colYTitleX[p.col]},${T+h/2}) scale(1.38,1) rotate(-90)`)
    .attr("text-anchor","middle").attr("font-size",19.5).attr("fill","#000").attr("font-family",FONT).text(yTitles[p.i]);
});
</script>
</body></html>
